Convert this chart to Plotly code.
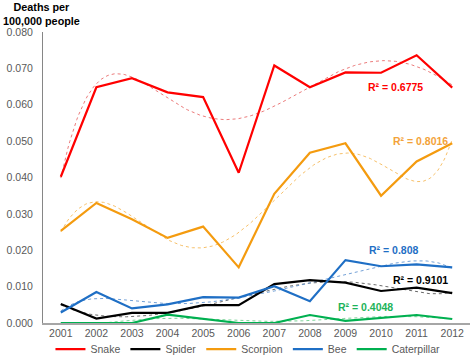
import numpy as np
import plotly.graph_objects as go

years = [2001, 2002, 2003, 2004, 2005, 2006, 2007, 2008, 2009, 2010, 2011, 2012]
snake = [0.0402, 0.0648, 0.0673, 0.0634, 0.0621, 0.0413, 0.0708, 0.0648, 0.0689, 0.0688, 0.0736, 0.0647]
spider = [0.0052, 0.0012, 0.0028, 0.0028, 0.0049, 0.0049, 0.0107, 0.0118, 0.0111, 0.0088, 0.0097, 0.0082]
scorpion = [0.0253, 0.0330, 0.0285, 0.0234, 0.0265, 0.0153, 0.0355, 0.0468, 0.0494, 0.0350, 0.0444, 0.0494]
bee = [0.0029, 0.0085, 0.0040, 0.0051, 0.0071, 0.0070, 0.0101, 0.0060, 0.0173, 0.0156, 0.0161, 0.0153]
caterpillar = [0.0000, 0.0000, 0.0000, 0.0023, 0.0011, 0.0000, 0.0000, 0.0022, 0.0006, 0.0013, 0.0022, 0.0011]

series_names = ["Snake", "Spider", "Scorpion", "Bee", "Caterpillar"]
r2_labels = ["R² = 0.6775", "R² = 0.9101", "R² = 0.8016", "R² = 0.808", "R² = 0.4048"]
colors = ["#FF0000", "#000000", "#F49B0F", "#1F6FC5", "#00B050"]
trend_colors = ["rgba(230,90,90,0.8)", "rgba(80,80,80,0.85)", "rgba(245,185,90,0.9)",
                "rgba(100,150,210,0.9)", "rgba(110,205,140,0.9)"]
label_colors = ["#FF0000", "#000000", "#F3A33A", "#1F6FC5", "#1DB35A"]
label_pos = [(2010.4, 0.0649), (2011.1, 0.0119), (2011.1, 0.0501), (2010.35, 0.0202), (2009.55, 0.0044)]

data = [snake, spider, scorpion, bee, caterpillar]

fig = go.Figure()
xs = np.array(years, dtype=float)
xfine = np.linspace(2001, 2012, 221)
for name, vals, tc in zip(series_names, data, trend_colors):
    coeffs = np.polyfit(xs - 2000, np.array(vals), 6)
    yfit = np.polyval(coeffs, xfine - 2000)
    fig.add_trace(go.Scatter(x=xfine, y=yfit, mode="lines", showlegend=False,
                             hoverinfo="skip",
                             line=dict(color=tc, width=1, dash="dot")))

for name, vals, c in zip(series_names, data, colors):
    fig.add_trace(go.Scatter(x=years, y=vals, mode="lines", name=name,
                             line=dict(color=c, width=2.2)))

for txt, (lx, ly), lc in zip(r2_labels, label_pos, label_colors):
    fig.add_annotation(x=lx, y=ly, text="<b>%s</b>" % txt, showarrow=False,
                       font=dict(color=lc, size=10.5, family="Liberation Sans, Arial"))

fig.add_annotation(xref="paper", yref="paper", x=-0.098, y=1.0, yshift=3,
                   xanchor="left", yanchor="bottom", align="center",
                   text="<b>Deaths per<br>100,000 people</b>", showarrow=False,
                   font=dict(color="#000000", size=10.8, family="Liberation Sans, Arial"))

fig.update_layout(
    width=472, height=359,
    margin=dict(l=43, r=2, t=32, b=36, autoexpand=False),
    plot_bgcolor="white", paper_bgcolor="white",
    font=dict(family="Liberation Sans, Arial", size=10.5, color="#595959"),
    legend=dict(orientation="h", x=0.48, xanchor="center", y=-0.04, yanchor="top",
                font=dict(size=10.5, color="#595959"), itemwidth=30,
                tracegroupgap=0, bgcolor="rgba(0,0,0,0)"),
    xaxis=dict(range=[2000.5, 2012.5], tickmode="array", tickvals=years,
               ticktext=[str(y) for y in years], showgrid=False, zeroline=False,
               showline=True, linecolor="#A6A6A6", linewidth=1.5, ticks="",
               automargin=False,
               tickfont=dict(size=10.5, color="#595959")),
    yaxis=dict(range=[0, 0.08], tickmode="linear", tick0=0, dtick=0.01,
               tickformat=".3f", showgrid=False, zeroline=False,
               showline=True, linecolor="#868686", linewidth=1, ticks="",
               ticklabelstandoff=7, automargin=False,
               tickfont=dict(size=10.5, color="#595959")),
)

fig.write_html("out.html", config={"displayModeBar": False},
               post_script="document.body.style.margin='0';")
